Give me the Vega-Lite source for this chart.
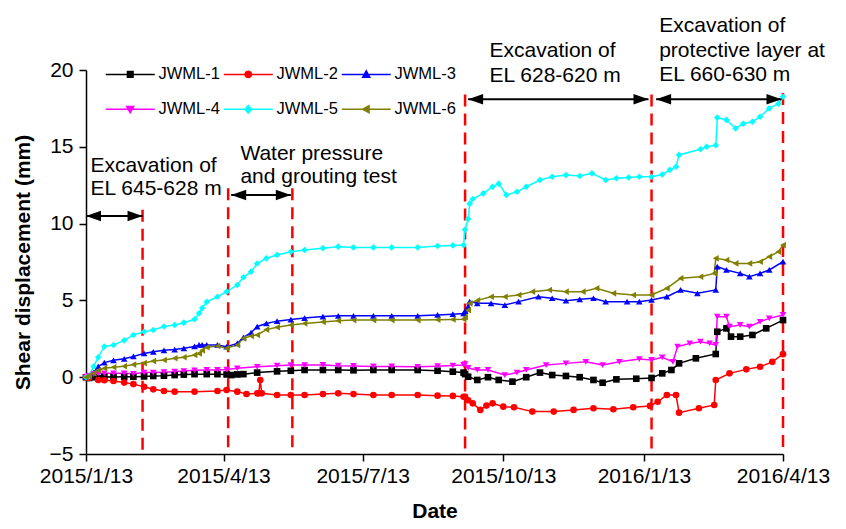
{
  "$schema": "https://vega.github.io/schema/vega-lite/v6.json",
  "width": 697,
  "height": 384,
  "autosize": {"type": "none"},
  "padding": {"left": 86, "top": 70, "right": 63, "bottom": 75},
  "config": {
    "view": {"stroke": null},
    "font": "Liberation Sans",
    "axis": {
      "labelFont": "Liberation Sans", "titleFont": "Liberation Sans",
      "labelColor": "#000", "titleColor": "#000", "domainColor": "#000", "tickColor": "#000",
      "domainWidth": 1.5, "tickWidth": 1.5, "tickSize": 7, "grid": false,
      "labelFontSize": 21, "titleFontSize": 21, "titleFontWeight": "bold"
    }
  },
  "datasets": {
    "series": [
      {"s":"JWML-1","d":"2015/01/13","v":0},{"s":"JWML-1","d":"2015/01/15","v":-0.05},{"s":"JWML-1","d":"2015/01/18","v":0},{"s":"JWML-1","d":"2015/01/21","v":-0.05},{"s":"JWML-1","d":"2015/01/25","v":0.03},{"s":"JWML-1","d":"2015/01/31","v":0.02},{"s":"JWML-1","d":"2015/02/07","v":0.03},{"s":"JWML-1","d":"2015/02/13","v":0.03},{"s":"JWML-1","d":"2015/02/20","v":0.05},{"s":"JWML-1","d":"2015/02/26","v":0.08},{"s":"JWML-1","d":"2015/03/05","v":0.1},{"s":"JWML-1","d":"2015/03/12","v":0.14},{"s":"JWML-1","d":"2015/03/18","v":0.17},{"s":"JWML-1","d":"2015/03/25","v":0.2},{"s":"JWML-1","d":"2015/04/02","v":0.2},{"s":"JWML-1","d":"2015/04/09","v":0.2},{"s":"JWML-1","d":"2015/04/15","v":0.18},{"s":"JWML-1","d":"2015/04/18","v":0.14},{"s":"JWML-1","d":"2015/04/22","v":0.18},{"s":"JWML-1","d":"2015/04/26","v":0.2},{"s":"JWML-1","d":"2015/05/05","v":0.3},{"s":"JWML-1","d":"2015/05/18","v":0.38},{"s":"JWML-1","d":"2015/05/27","v":0.42},{"s":"JWML-1","d":"2015/06/05","v":0.47},{"s":"JWML-1","d":"2015/06/17","v":0.47},{"s":"JWML-1","d":"2015/06/27","v":0.47},{"s":"JWML-1","d":"2015/07/07","v":0.45},{"s":"JWML-1","d":"2015/07/20","v":0.47},{"s":"JWML-1","d":"2015/08/01","v":0.47},{"s":"JWML-1","d":"2015/08/18","v":0.47},{"s":"JWML-1","d":"2015/08/31","v":0.42},{"s":"JWML-1","d":"2015/09/10","v":0.36},{"s":"JWML-1","d":"2015/09/17","v":0.3},{"s":"JWML-1","d":"2015/09/18","v":0.2},{"s":"JWML-1","d":"2015/09/20","v":0.03},{"s":"JWML-1","d":"2015/09/26","v":-0.18},{"s":"JWML-1","d":"2015/10/03","v":0},{"s":"JWML-1","d":"2015/10/10","v":-0.18},{"s":"JWML-1","d":"2015/10/19","v":-0.29},{"s":"JWML-1","d":"2015/10/28","v":0},{"s":"JWML-1","d":"2015/11/06","v":0.3},{"s":"JWML-1","d":"2015/11/14","v":0.14},{"s":"JWML-1","d":"2015/11/23","v":0.08},{"s":"JWML-1","d":"2015/12/02","v":0},{"s":"JWML-1","d":"2015/12/11","v":-0.18},{"s":"JWML-1","d":"2015/12/17","v":-0.36},{"s":"JWML-1","d":"2015/12/26","v":-0.14},{"s":"JWML-1","d":"2016/01/08","v":-0.1},{"s":"JWML-1","d":"2016/01/18","v":-0.05},{"s":"JWML-1","d":"2016/01/25","v":0.25},{"s":"JWML-1","d":"2016/01/31","v":0.47},{"s":"JWML-1","d":"2016/02/05","v":0.9},{"s":"JWML-1","d":"2016/02/16","v":1.23},{"s":"JWML-1","d":"2016/02/29","v":1.51},{"s":"JWML-1","d":"2016/03/01","v":2.96},{"s":"JWML-1","d":"2016/03/07","v":3.18},{"s":"JWML-1","d":"2016/03/10","v":2.64},{"s":"JWML-1","d":"2016/03/16","v":2.64},{"s":"JWML-1","d":"2016/03/24","v":2.75},{"s":"JWML-1","d":"2016/04/02","v":3.18},{"s":"JWML-1","d":"2016/04/13","v":3.72},

      {"s":"JWML-2","d":"2015/01/13","v":0},{"s":"JWML-2","d":"2015/01/15","v":-0.05},{"s":"JWML-2","d":"2015/01/21","v":-0.18},{"s":"JWML-2","d":"2015/01/25","v":-0.2},{"s":"JWML-2","d":"2015/01/31","v":-0.25},{"s":"JWML-2","d":"2015/02/07","v":-0.35},{"s":"JWML-2","d":"2015/02/13","v":-0.45},{"s":"JWML-2","d":"2015/02/20","v":-0.62},{"s":"JWML-2","d":"2015/02/26","v":-0.79},{"s":"JWML-2","d":"2015/03/05","v":-0.9},{"s":"JWML-2","d":"2015/03/12","v":-0.94},{"s":"JWML-2","d":"2015/03/25","v":-0.94},{"s":"JWML-2","d":"2015/04/09","v":-0.9},{"s":"JWML-2","d":"2015/04/15","v":-0.83},{"s":"JWML-2","d":"2015/04/22","v":-0.94},{"s":"JWML-2","d":"2015/04/28","v":-1.09},{"s":"JWML-2","d":"2015/05/05","v":-1.05},{"s":"JWML-2","d":"2015/05/06","v":-1.05},{"s":"JWML-2","d":"2015/05/07","v":-0.18},{"s":"JWML-2","d":"2015/05/08","v":-1.05},{"s":"JWML-2","d":"2015/05/18","v":-1.16},{"s":"JWML-2","d":"2015/05/27","v":-1.16},{"s":"JWML-2","d":"2015/06/05","v":-1.16},{"s":"JWML-2","d":"2015/06/17","v":-1.1},{"s":"JWML-2","d":"2015/06/27","v":-1.05},{"s":"JWML-2","d":"2015/07/07","v":-1.1},{"s":"JWML-2","d":"2015/07/20","v":-1.16},{"s":"JWML-2","d":"2015/08/01","v":-1.16},{"s":"JWML-2","d":"2015/08/18","v":-1.16},{"s":"JWML-2","d":"2015/08/31","v":-1.2},{"s":"JWML-2","d":"2015/09/10","v":-1.22},{"s":"JWML-2","d":"2015/09/17","v":-1.27},{"s":"JWML-2","d":"2015/09/18","v":-1.27},{"s":"JWML-2","d":"2015/09/20","v":-1.5},{"s":"JWML-2","d":"2015/09/23","v":-1.7},{"s":"JWML-2","d":"2015/09/28","v":-2.13},{"s":"JWML-2","d":"2015/10/02","v":-1.85},{"s":"JWML-2","d":"2015/10/06","v":-1.7},{"s":"JWML-2","d":"2015/10/13","v":-1.92},{"s":"JWML-2","d":"2015/10/20","v":-1.96},{"s":"JWML-2","d":"2015/11/01","v":-2.24},{"s":"JWML-2","d":"2015/11/15","v":-2.24},{"s":"JWML-2","d":"2015/11/28","v":-2.13},{"s":"JWML-2","d":"2015/12/11","v":-2.02},{"s":"JWML-2","d":"2015/12/24","v":-2.09},{"s":"JWML-2","d":"2016/01/06","v":-1.96},{"s":"JWML-2","d":"2016/01/17","v":-1.87},{"s":"JWML-2","d":"2016/01/22","v":-1.6},{"s":"JWML-2","d":"2016/01/28","v":-1.16},{"s":"JWML-2","d":"2016/02/03","v":-1.16},{"s":"JWML-2","d":"2016/02/05","v":-2.31},{"s":"JWML-2","d":"2016/02/18","v":-2.02},{"s":"JWML-2","d":"2016/02/28","v":-1.81},{"s":"JWML-2","d":"2016/02/29","v":-0.18},{"s":"JWML-2","d":"2016/03/09","v":0.25},{"s":"JWML-2","d":"2016/03/20","v":0.51},{"s":"JWML-2","d":"2016/03/29","v":0.68},{"s":"JWML-2","d":"2016/04/06","v":1.0},{"s":"JWML-2","d":"2016/04/13","v":1.5},

      {"s":"JWML-3","d":"2015/01/13","v":0},{"s":"JWML-3","d":"2015/01/15","v":0.1},{"s":"JWML-3","d":"2015/01/18","v":0.3},{"s":"JWML-3","d":"2015/01/21","v":0.7},{"s":"JWML-3","d":"2015/01/25","v":0.95},{"s":"JWML-3","d":"2015/01/31","v":1.1},{"s":"JWML-3","d":"2015/02/07","v":1.2},{"s":"JWML-3","d":"2015/02/13","v":1.35},{"s":"JWML-3","d":"2015/02/20","v":1.55},{"s":"JWML-3","d":"2015/02/26","v":1.65},{"s":"JWML-3","d":"2015/03/05","v":1.75},{"s":"JWML-3","d":"2015/03/12","v":1.8},{"s":"JWML-3","d":"2015/03/18","v":1.88},{"s":"JWML-3","d":"2015/03/25","v":2.0},{"s":"JWML-3","d":"2015/03/28","v":2.1},{"s":"JWML-3","d":"2015/03/30","v":2.1},{"s":"JWML-3","d":"2015/04/02","v":2.1},{"s":"JWML-3","d":"2015/04/09","v":2.1},{"s":"JWML-3","d":"2015/04/15","v":1.99},{"s":"JWML-3","d":"2015/04/22","v":2.2},{"s":"JWML-3","d":"2015/04/26","v":2.6},{"s":"JWML-3","d":"2015/05/01","v":2.9},{"s":"JWML-3","d":"2015/05/05","v":3.3},{"s":"JWML-3","d":"2015/05/11","v":3.5},{"s":"JWML-3","d":"2015/05/18","v":3.65},{"s":"JWML-3","d":"2015/05/27","v":3.75},{"s":"JWML-3","d":"2015/06/05","v":3.85},{"s":"JWML-3","d":"2015/06/17","v":3.95},{"s":"JWML-3","d":"2015/06/27","v":4.0},{"s":"JWML-3","d":"2015/07/07","v":4.0},{"s":"JWML-3","d":"2015/07/20","v":4.0},{"s":"JWML-3","d":"2015/08/01","v":4.0},{"s":"JWML-3","d":"2015/08/18","v":4.0},{"s":"JWML-3","d":"2015/08/31","v":4.05},{"s":"JWML-3","d":"2015/09/10","v":4.1},{"s":"JWML-3","d":"2015/09/17","v":4.15},{"s":"JWML-3","d":"2015/09/18","v":4.3},{"s":"JWML-3","d":"2015/09/20","v":4.6},{"s":"JWML-3","d":"2015/09/21","v":4.92},{"s":"JWML-3","d":"2015/09/26","v":4.81},{"s":"JWML-3","d":"2015/10/05","v":4.81},{"s":"JWML-3","d":"2015/10/14","v":4.7},{"s":"JWML-3","d":"2015/10/23","v":4.92},{"s":"JWML-3","d":"2015/11/05","v":5.24},{"s":"JWML-3","d":"2015/11/14","v":5.14},{"s":"JWML-3","d":"2015/11/23","v":4.98},{"s":"JWML-3","d":"2015/12/02","v":5.07},{"s":"JWML-3","d":"2015/12/11","v":5.14},{"s":"JWML-3","d":"2015/12/19","v":4.92},{"s":"JWML-3","d":"2016/01/02","v":4.92},{"s":"JWML-3","d":"2016/01/10","v":4.92},{"s":"JWML-3","d":"2016/01/18","v":5.03},{"s":"JWML-3","d":"2016/01/28","v":5.24},{"s":"JWML-3","d":"2016/02/06","v":5.68},{"s":"JWML-3","d":"2016/02/17","v":5.46},{"s":"JWML-3","d":"2016/02/29","v":5.68},{"s":"JWML-3","d":"2016/03/01","v":7.2},{"s":"JWML-3","d":"2016/03/07","v":6.98},{"s":"JWML-3","d":"2016/03/16","v":6.76},{"s":"JWML-3","d":"2016/03/22","v":6.54},{"s":"JWML-3","d":"2016/03/29","v":6.76},{"s":"JWML-3","d":"2016/04/04","v":6.98},{"s":"JWML-3","d":"2016/04/13","v":7.52},

      {"s":"JWML-4","d":"2015/01/13","v":0},{"s":"JWML-4","d":"2015/01/15","v":0.1},{"s":"JWML-4","d":"2015/01/18","v":0.2},{"s":"JWML-4","d":"2015/01/21","v":0.25},{"s":"JWML-4","d":"2015/01/25","v":0.25},{"s":"JWML-4","d":"2015/01/31","v":0.25},{"s":"JWML-4","d":"2015/02/07","v":0.25},{"s":"JWML-4","d":"2015/02/13","v":0.22},{"s":"JWML-4","d":"2015/02/20","v":0.3},{"s":"JWML-4","d":"2015/02/26","v":0.3},{"s":"JWML-4","d":"2015/03/05","v":0.33},{"s":"JWML-4","d":"2015/03/12","v":0.36},{"s":"JWML-4","d":"2015/03/18","v":0.4},{"s":"JWML-4","d":"2015/03/25","v":0.45},{"s":"JWML-4","d":"2015/04/02","v":0.47},{"s":"JWML-4","d":"2015/04/09","v":0.47},{"s":"JWML-4","d":"2015/04/15","v":0.5},{"s":"JWML-4","d":"2015/04/22","v":0.58},{"s":"JWML-4","d":"2015/05/05","v":0.68},{"s":"JWML-4","d":"2015/05/18","v":0.75},{"s":"JWML-4","d":"2015/05/27","v":0.79},{"s":"JWML-4","d":"2015/06/05","v":0.79},{"s":"JWML-4","d":"2015/06/17","v":0.8},{"s":"JWML-4","d":"2015/06/27","v":0.75},{"s":"JWML-4","d":"2015/07/07","v":0.73},{"s":"JWML-4","d":"2015/07/20","v":0.7},{"s":"JWML-4","d":"2015/08/01","v":0.7},{"s":"JWML-4","d":"2015/08/18","v":0.68},{"s":"JWML-4","d":"2015/08/31","v":0.72},{"s":"JWML-4","d":"2015/09/10","v":0.76},{"s":"JWML-4","d":"2015/09/17","v":0.8},{"s":"JWML-4","d":"2015/09/18","v":0.85},{"s":"JWML-4","d":"2015/09/20","v":0.6},{"s":"JWML-4","d":"2015/09/26","v":0.47},{"s":"JWML-4","d":"2015/10/03","v":0.47},{"s":"JWML-4","d":"2015/10/14","v":0.14},{"s":"JWML-4","d":"2015/10/22","v":0.3},{"s":"JWML-4","d":"2015/10/28","v":0.47},{"s":"JWML-4","d":"2015/11/10","v":0.79},{"s":"JWML-4","d":"2015/11/23","v":0.9},{"s":"JWML-4","d":"2015/12/06","v":1.0},{"s":"JWML-4","d":"2015/12/17","v":0.79},{"s":"JWML-4","d":"2015/12/28","v":1.0},{"s":"JWML-4","d":"2016/01/10","v":1.18},{"s":"JWML-4","d":"2016/01/18","v":1.12},{"s":"JWML-4","d":"2016/01/25","v":1.29},{"s":"JWML-4","d":"2016/02/01","v":1.0},{"s":"JWML-4","d":"2016/02/04","v":1.99},{"s":"JWML-4","d":"2016/02/12","v":2.2},{"s":"JWML-4","d":"2016/02/19","v":2.31},{"s":"JWML-4","d":"2016/02/25","v":2.2},{"s":"JWML-4","d":"2016/02/29","v":2.1},{"s":"JWML-4","d":"2016/03/01","v":3.94},{"s":"JWML-4","d":"2016/03/07","v":3.94},{"s":"JWML-4","d":"2016/03/09","v":3.29},{"s":"JWML-4","d":"2016/03/16","v":3.4},{"s":"JWML-4","d":"2016/03/22","v":3.29},{"s":"JWML-4","d":"2016/03/29","v":3.61},{"s":"JWML-4","d":"2016/04/04","v":3.83},{"s":"JWML-4","d":"2016/04/13","v":4.05},

      {"s":"JWML-5","d":"2015/01/13","v":0},{"s":"JWML-5","d":"2015/01/15","v":0.05},{"s":"JWML-5","d":"2015/01/18","v":0.7},{"s":"JWML-5","d":"2015/01/21","v":1.3},{"s":"JWML-5","d":"2015/01/25","v":2.0},{"s":"JWML-5","d":"2015/01/31","v":2.1},{"s":"JWML-5","d":"2015/02/07","v":2.4},{"s":"JWML-5","d":"2015/02/13","v":2.75},{"s":"JWML-5","d":"2015/02/20","v":2.96},{"s":"JWML-5","d":"2015/02/26","v":3.07},{"s":"JWML-5","d":"2015/03/05","v":3.3},{"s":"JWML-5","d":"2015/03/12","v":3.4},{"s":"JWML-5","d":"2015/03/18","v":3.55},{"s":"JWML-5","d":"2015/03/25","v":3.77},{"s":"JWML-5","d":"2015/03/28","v":4.16},{"s":"JWML-5","d":"2015/03/30","v":4.5},{"s":"JWML-5","d":"2015/04/02","v":4.9},{"s":"JWML-5","d":"2015/04/09","v":5.24},{"s":"JWML-5","d":"2015/04/15","v":5.57},{"s":"JWML-5","d":"2015/04/22","v":6.0},{"s":"JWML-5","d":"2015/04/26","v":6.5},{"s":"JWML-5","d":"2015/05/01","v":6.87},{"s":"JWML-5","d":"2015/05/05","v":7.4},{"s":"JWML-5","d":"2015/05/11","v":7.74},{"s":"JWML-5","d":"2015/05/18","v":7.96},{"s":"JWML-5","d":"2015/05/27","v":8.17},{"s":"JWML-5","d":"2015/06/05","v":8.28},{"s":"JWML-5","d":"2015/06/17","v":8.4},{"s":"JWML-5","d":"2015/06/27","v":8.5},{"s":"JWML-5","d":"2015/07/07","v":8.45},{"s":"JWML-5","d":"2015/07/20","v":8.45},{"s":"JWML-5","d":"2015/08/01","v":8.45},{"s":"JWML-5","d":"2015/08/18","v":8.45},{"s":"JWML-5","d":"2015/08/31","v":8.54},{"s":"JWML-5","d":"2015/09/10","v":8.58},{"s":"JWML-5","d":"2015/09/17","v":8.6},{"s":"JWML-5","d":"2015/09/18","v":9.6},{"s":"JWML-5","d":"2015/09/20","v":10.3},{"s":"JWML-5","d":"2015/09/21","v":11.3},{"s":"JWML-5","d":"2015/09/23","v":11.6},{"s":"JWML-5","d":"2015/09/30","v":11.97},{"s":"JWML-5","d":"2015/10/06","v":12.4},{"s":"JWML-5","d":"2015/10/10","v":12.6},{"s":"JWML-5","d":"2015/10/15","v":11.86},{"s":"JWML-5","d":"2015/10/22","v":12.07},{"s":"JWML-5","d":"2015/10/28","v":12.4},{"s":"JWML-5","d":"2015/11/06","v":12.84},{"s":"JWML-5","d":"2015/11/14","v":13.05},{"s":"JWML-5","d":"2015/11/23","v":13.16},{"s":"JWML-5","d":"2015/12/02","v":13.1},{"s":"JWML-5","d":"2015/12/10","v":13.27},{"s":"JWML-5","d":"2015/12/19","v":12.84},{"s":"JWML-5","d":"2015/12/26","v":12.95},{"s":"JWML-5","d":"2016/01/03","v":13.0},{"s":"JWML-5","d":"2016/01/10","v":13.05},{"s":"JWML-5","d":"2016/01/18","v":13.05},{"s":"JWML-5","d":"2016/01/25","v":13.2},{"s":"JWML-5","d":"2016/01/30","v":13.5},{"s":"JWML-5","d":"2016/02/03","v":13.7},{"s":"JWML-5","d":"2016/02/05","v":14.47},{"s":"JWML-5","d":"2016/02/19","v":14.84},{"s":"JWML-5","d":"2016/02/23","v":15.0},{"s":"JWML-5","d":"2016/02/29","v":15.1},{"s":"JWML-5","d":"2016/03/01","v":16.9},{"s":"JWML-5","d":"2016/03/07","v":16.75},{"s":"JWML-5","d":"2016/03/13","v":16.2},{"s":"JWML-5","d":"2016/03/18","v":16.5},{"s":"JWML-5","d":"2016/03/24","v":16.63},{"s":"JWML-5","d":"2016/03/29","v":16.96},{"s":"JWML-5","d":"2016/04/04","v":17.5},{"s":"JWML-5","d":"2016/04/10","v":17.8},{"s":"JWML-5","d":"2016/04/13","v":18.26},

      {"s":"JWML-6","d":"2015/01/13","v":0},{"s":"JWML-6","d":"2015/01/15","v":0.1},{"s":"JWML-6","d":"2015/01/18","v":0.25},{"s":"JWML-6","d":"2015/01/21","v":0.45},{"s":"JWML-6","d":"2015/01/25","v":0.58},{"s":"JWML-6","d":"2015/01/31","v":0.65},{"s":"JWML-6","d":"2015/02/07","v":0.72},{"s":"JWML-6","d":"2015/02/13","v":0.82},{"s":"JWML-6","d":"2015/02/20","v":0.92},{"s":"JWML-6","d":"2015/02/26","v":1.05},{"s":"JWML-6","d":"2015/03/05","v":1.12},{"s":"JWML-6","d":"2015/03/12","v":1.23},{"s":"JWML-6","d":"2015/03/18","v":1.3},{"s":"JWML-6","d":"2015/03/25","v":1.45},{"s":"JWML-6","d":"2015/03/28","v":1.55},{"s":"JWML-6","d":"2015/03/30","v":1.75},{"s":"JWML-6","d":"2015/04/02","v":1.95},{"s":"JWML-6","d":"2015/04/09","v":2.03},{"s":"JWML-6","d":"2015/04/15","v":1.88},{"s":"JWML-6","d":"2015/04/22","v":2.1},{"s":"JWML-6","d":"2015/04/26","v":2.53},{"s":"JWML-6","d":"2015/05/01","v":2.68},{"s":"JWML-6","d":"2015/05/05","v":2.75},{"s":"JWML-6","d":"2015/05/11","v":3.1},{"s":"JWML-6","d":"2015/05/18","v":3.25},{"s":"JWML-6","d":"2015/05/27","v":3.4},{"s":"JWML-6","d":"2015/06/05","v":3.5},{"s":"JWML-6","d":"2015/06/17","v":3.6},{"s":"JWML-6","d":"2015/06/27","v":3.68},{"s":"JWML-6","d":"2015/07/07","v":3.72},{"s":"JWML-6","d":"2015/07/20","v":3.72},{"s":"JWML-6","d":"2015/08/01","v":3.72},{"s":"JWML-6","d":"2015/08/18","v":3.72},{"s":"JWML-6","d":"2015/08/31","v":3.74},{"s":"JWML-6","d":"2015/09/10","v":3.76},{"s":"JWML-6","d":"2015/09/17","v":3.77},{"s":"JWML-6","d":"2015/09/18","v":3.9},{"s":"JWML-6","d":"2015/09/20","v":4.37},{"s":"JWML-6","d":"2015/09/21","v":4.81},{"s":"JWML-6","d":"2015/09/26","v":5.0},{"s":"JWML-6","d":"2015/10/05","v":5.24},{"s":"JWML-6","d":"2015/10/14","v":5.24},{"s":"JWML-6","d":"2015/10/23","v":5.35},{"s":"JWML-6","d":"2015/11/01","v":5.57},{"s":"JWML-6","d":"2015/11/12","v":5.68},{"s":"JWML-6","d":"2015/11/23","v":5.57},{"s":"JWML-6","d":"2015/12/04","v":5.57},{"s":"JWML-6","d":"2015/12/13","v":5.79},{"s":"JWML-6","d":"2015/12/24","v":5.46},{"s":"JWML-6","d":"2016/01/06","v":5.35},{"s":"JWML-6","d":"2016/01/18","v":5.35},{"s":"JWML-6","d":"2016/01/28","v":5.79},{"s":"JWML-6","d":"2016/02/06","v":6.44},{"s":"JWML-6","d":"2016/02/19","v":6.54},{"s":"JWML-6","d":"2016/02/28","v":6.76},{"s":"JWML-6","d":"2016/02/29","v":7.74},{"s":"JWML-6","d":"2016/03/07","v":7.63},{"s":"JWML-6","d":"2016/03/13","v":7.41},{"s":"JWML-6","d":"2016/03/22","v":7.41},{"s":"JWML-6","d":"2016/03/29","v":7.52},{"s":"JWML-6","d":"2016/04/04","v":7.85},{"s":"JWML-6","d":"2016/04/10","v":8.17},{"s":"JWML-6","d":"2016/04/13","v":8.6}
    ],
    "vlines": [
      {"d":"2015/02/19","v":10.9},{"d":"2015/04/16","v":12.3},{"d":"2015/05/28","v":12.3},
      {"d":"2015/09/18","v":18.4},{"d":"2016/01/18","v":18.4},{"d":"2016/04/13","v":18.5}
    ],
    "arrows": [
      {"d":"2015/01/13","d2":"2015/02/19","v":10.5},
      {"d":"2015/04/18","d2":"2015/05/27","v":11.86},
      {"d":"2015/09/20","d2":"2016/01/16","v":18.1},
      {"d":"2016/01/21","d2":"2016/04/12","v":18.1}
    ],
    "notes": [
      {"t":"Excavation of","d":"2015/01/16","v":13.37},
      {"t":"EL 645-628 m","d":"2015/01/16","v":11.87},
      {"t":"Water pressure","d":"2015/04/24","v":14.14},
      {"t":"and grouting test","d":"2015/04/24","v":12.64},
      {"t":"Excavation of","d":"2015/10/04","v":20.87},
      {"t":"EL 628-620 m","d":"2015/10/04","v":19.24},
      {"t":"Excavation of","d":"2016/01/23","v":22.5},
      {"t":"protective layer at","d":"2016/01/23","v":20.85},
      {"t":"EL 660-630 m","d":"2016/01/23","v":19.3}
    ]
  },
  "encoding": {
    "x": {
      "field": "d", "type": "temporal",
      "scale": {"domain": [{"year":2015,"month":1,"date":13},{"year":2016,"month":4,"date":13}]},
      "axis": {
        "title": "Date", "format": "%Y/%-m/%-d",
        "values": [{"year":2015,"month":1,"date":13},{"year":2015,"month":4,"date":13},{"year":2015,"month":7,"date":13},{"year":2015,"month":10,"date":13},{"year":2016,"month":1,"date":13},{"year":2016,"month":4,"date":13}],
        "labelFlush": false, "labelOverlap": false, "labelPadding": 4, "titlePadding": 14
      }
    },
    "y": {
      "field": "v", "type": "quantitative",
      "scale": {"domain": [-5, 20], "nice": false, "zero": false},
      "axis": {"title": "Shear displacement (mm)", "values": [-5,0,5,10,15,20], "labelPadding": 6, "titlePadding": 16}
    }
  },
  "layer": [
    {
      "data": {"name": "vlines"},
      "mark": {"type": "rule", "color": "#ff0000", "strokeWidth": 2.5, "strokeDash": [12, 7]},
      "encoding": {"y2": {"datum": -5}}
    },
    {
      "data": {"name": "series"},
      "mark": {"type": "line", "strokeWidth": 1.5},
      "encoding": {
        "color": {
          "field": "s", "type": "nominal",
          "scale": {"domain": ["JWML-1","JWML-2","JWML-3","JWML-4","JWML-5","JWML-6"], "range": ["#000000","#ff0000","#0000ff","#ff00ff","#00ffff","#808000"]},
          "legend": {
            "orient": "none", "legendX": 36, "legendY": -4, "columns": 3, "direction": "horizontal", "title": null, "padding": 0,
            "symbolSize": 49, "symbolStrokeWidth": 1.5, "labelFontSize": 16.5, "labelFont": "Liberation Sans", "labelColor": "#000",
            "labelOffset": 20, "columnPadding": 0, "rowPadding": 18,
            "encode": {"symbols": {"update": {
              "stroke": {"scale": "color", "field": "value"},
              "fill": {"scale": "color", "field": "value"},
              "strokeWidth": {"value": 1.5},
              "opacity": {"value": 1},
              "shape": {"signal": "datum.value==='JWML-1'?'M-7,0L7,0M-0.8,-0.8L0.8,-0.8L0.8,0.8L-0.8,0.8Z':datum.value==='JWML-2'?'M-7,0L7,0M-0.9,0A0.9,0.9,0,1,0,0.9,0A0.9,0.9,0,1,0,-0.9,0Z':datum.value==='JWML-3'?'M-7,0L7,0M0,-1L1,0.8L-1,0.8Z':datum.value==='JWML-4'?'M-7,0L7,0M0,1L1,-0.8L-1,-0.8Z':datum.value==='JWML-5'?'M-7,0L7,0M0,-1.1L0.9,0L0,1.1L-0.9,0Z':'M-7,0L7,0M-1,0L0.8,-1L0.8,1Z'"}
            }}}
          }
        }
      }
    },
    {
      "data": {"name": "series"},
      "mark": {"type": "point", "filled": true, "size": 44, "opacity": 1},
      "encoding": {
        "color": {"field": "s", "type": "nominal"},
        "shape": {
          "field": "s", "type": "nominal",
          "scale": {"range": ["square","circle","triangle-up","triangle-down","diamond","triangle-left"]},
          "legend": null
        }
      }
    },
    {
      "data": {"name": "arrows"},
      "mark": {"type": "rule", "color": "#000", "strokeWidth": 2},
      "encoding": {"x2": {"field": "d2"}}
    },
    {
      "data": {"name": "arrows"},
      "mark": {"type": "point", "filled": true, "color": "#000", "opacity": 1, "size": 225, "shape": "M0,0L2,-0.7L2,0.7Z"},
      "encoding": {}
    },
    {
      "data": {"name": "arrows"},
      "mark": {"type": "point", "filled": true, "color": "#000", "opacity": 1, "size": 225, "shape": "M0,0L-2,-0.7L-2,0.7Z"},
      "encoding": {"x": {"field": "d2", "type": "temporal"}}
    },
    {
      "data": {"name": "notes"},
      "mark": {"type": "text", "align": "left", "baseline": "alphabetic", "font": "Liberation Sans", "fontSize": 21, "color": "#000"},
      "encoding": {"text": {"field": "t"}}
    }
  ]
}
